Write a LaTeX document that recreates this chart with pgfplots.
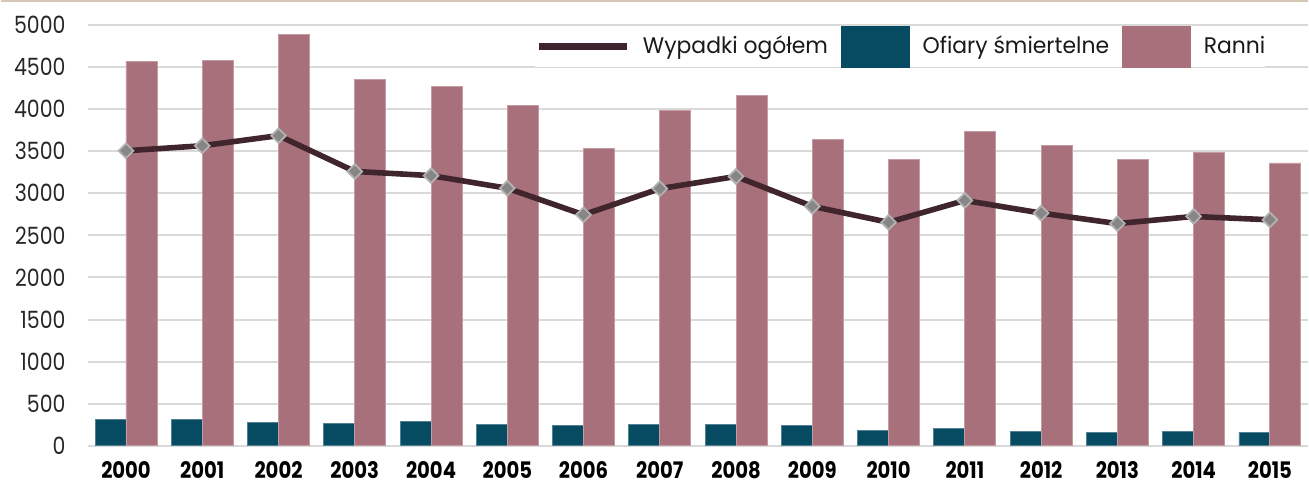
\documentclass[border=0pt]{standalone}
\usepackage{fontspec}
\setmainfont{Poppins}
\newfontfamily\tickfont[FakeStretch=0.86]{Poppins}
\newfontfamily\legfont[FakeStretch=0.97]{Poppins}
\usepackage{pgfplots}
\pgfplotsset{compat=1.18}
\definecolor{cTeal}{HTML}{074B63}
\definecolor{cPink}{HTML}{A8707B}
\definecolor{cLine}{HTML}{40262C}
\definecolor{cGrid}{HTML}{D9D9D9}
\definecolor{cBorder}{HTML}{D6C6B4}
\pgfplotsset{
  linelegend/.style={legend image code/.code={\draw[cLine, line width=3.5pt] (0pt,0pt) -- (44pt,0pt);}},
  teallegend/.style={legend image code/.code={\fill[cTeal] (0pt,-10.25pt) rectangle (34pt,10.25pt);}},
  pinklegend/.style={legend image code/.code={\fill[cPink] (0pt,-10.25pt) rectangle (34pt,10.25pt);}},
}
\begin{document}
\begin{tikzpicture}
\begin{axis}[name=ax, scale only axis, width=611pt, height=210.75pt,
  xmin=-0.5, xmax=15.5, ymin=0, ymax=5000,
  xtick={0,...,15},
  xticklabels={2000,2001,2002,2003,2004,2005,2006,2007,2008,2009,2010,2011,2012,2013,2014,2015},
  ytick={0,500,...,5000},
  ymajorgrids, grid style={cGrid, line width=1pt},
  axis line style={draw=none},
  major tick length=0pt, tick style={draw=none},
  /pgf/number format/assume math mode=true,
  /pgf/number format/1000 sep={},
  yticklabel style={font=\tickfont\fontsize{11.9}{12}\selectfont, inner sep=0pt, xshift=-11pt, text=black!85},
  xticklabel style={font=\tickfont\bfseries\fontsize{11.4}{12}\selectfont, inner sep=0pt, yshift=-7.75pt, anchor=north, text=black},
  legend columns=-1,
  legend style={at={(0.3666,0.9985)}, anchor=north west, draw=none, fill=white,
    inner sep=0pt, outer sep=0pt, font=\legfont\fontsize{11.3}{12}\selectfont, text=black!90,
    nodes={inner sep=0pt},
    /tikz/every odd column/.append style={column sep=6.5pt},
    /tikz/every even column/.append style={column sep=6.5pt}},
]
\addlegendimage{linelegend}
\addlegendentry{Wypadki ogółem}
\addplot[ybar, bar width=15.5pt, bar shift=-7.75pt, fill=cTeal, draw=cTeal!70!white, line width=0.4pt, teallegend]
  coordinates {(0,309) (1,317) (2,273) (3,261) (4,293) (5,257) (6,246) (7,257) (8,253) (9,246) (10,186) (11,210) (12,166) (13,158) (14,166) (15,154)};
\addlegendentry{Ofiary śmiertelne\hspace{5pt}}
\addplot[ybar, bar width=15.5pt, bar shift=7.75pt, fill=cPink, draw=cPink!70!white, line width=0.4pt, pinklegend]
  coordinates {(0,4565) (1,4575) (2,4890) (3,4356) (4,4265) (5,4040) (6,3530) (7,3985) (8,4160) (9,3635) (10,3400) (11,3730) (12,3570) (13,3400) (14,3480) (15,3360)};
\addlegendentry{Ranni}
\addplot[cLine, line width=2.8pt, mark=square*, mark size=2.6pt,
  mark options={rotate=45, fill=gray!95, draw=gray!60, line width=0.9pt}, forget plot]
  coordinates {(0,3505) (1,3565) (2,3685) (3,3260) (4,3210) (5,3060) (6,2745) (7,3055) (8,3200) (9,2845) (10,2655) (11,2915) (12,2765) (13,2640) (14,2725) (15,2685)};
\end{axis}
\pgfresetboundingbox
\path ([xshift=-43.5pt,yshift=-21.75pt]ax.south west) rectangle ([yshift=12.5pt]ax.north east);
\draw[cBorder, line width=1pt] ([xshift=-43.5pt,yshift=12pt]ax.north west) -- ([yshift=12pt]ax.north east);
\end{tikzpicture}
\end{document}
